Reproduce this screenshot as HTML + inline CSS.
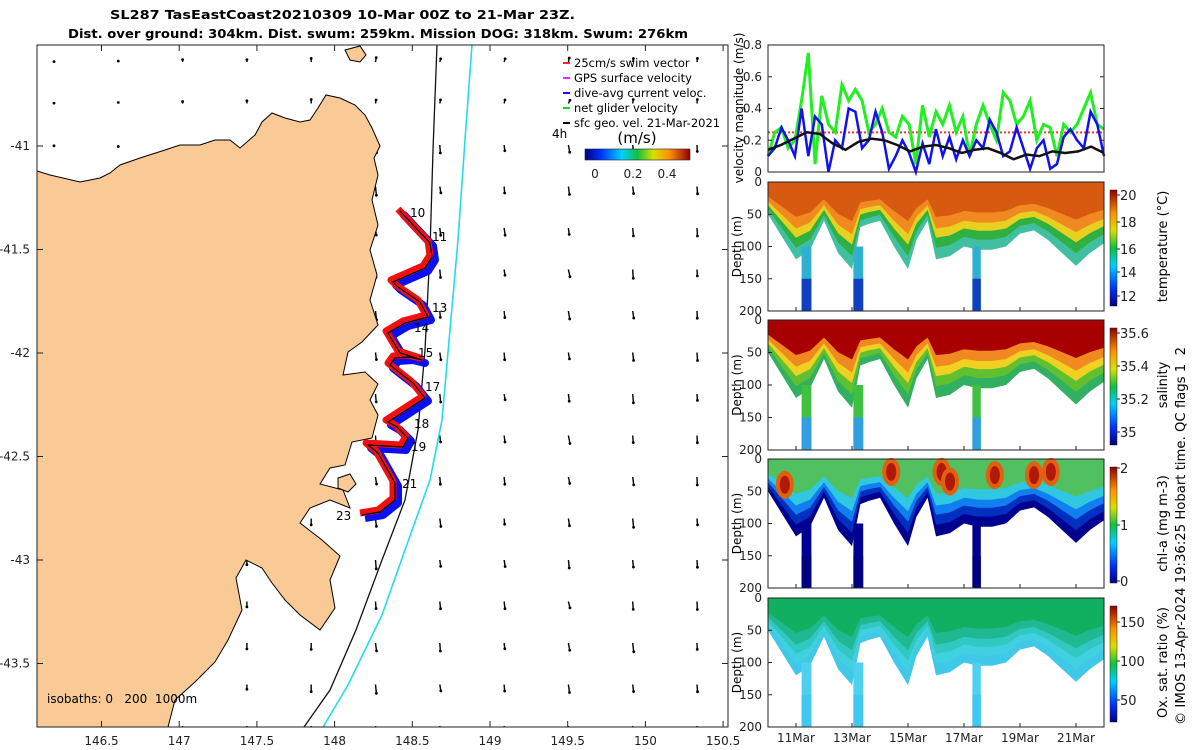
<!DOCTYPE html>
<html><head><meta charset="utf-8"><style>
body{margin:0;background:#fff;}
svg{display:block;font-family:"DejaVu Sans","Liberation Sans",sans-serif;}
text{white-space:pre;}
</style></head><body>
<svg id="fig" width="1200" height="750" viewBox="0 0 1200 750" xmlns="http://www.w3.org/2000/svg">
<defs>
<linearGradient id="jet" x1="0" y1="1" x2="0" y2="0">
<stop offset="0" stop-color="#00007f"/><stop offset="0.15" stop-color="#0030ff"/><stop offset="0.35" stop-color="#00d0ff"/><stop offset="0.5" stop-color="#10c040"/><stop offset="0.65" stop-color="#d8e000"/><stop offset="0.8" stop-color="#ff9000"/><stop offset="1" stop-color="#900000"/></linearGradient>
<linearGradient id="jeth" x1="0" y1="0" x2="1" y2="0">
<stop offset="0" stop-color="#00007f"/><stop offset="0.15" stop-color="#0030ff"/><stop offset="0.35" stop-color="#00d0ff"/><stop offset="0.5" stop-color="#10c040"/><stop offset="0.65" stop-color="#d8e000"/><stop offset="0.8" stop-color="#ff9000"/><stop offset="1" stop-color="#900000"/></linearGradient>
<clipPath id="mapclip"><rect x="37" y="45" width="691" height="682"/></clipPath>
</defs>
<text x="110" y="19" font-size="12" font-weight="bold" textLength="465" lengthAdjust="spacingAndGlyphs">SL287 TasEastCoast20210309 10-Mar 00Z to 21-Mar 23Z.</text>
<text x="68" y="38" font-size="12" font-weight="bold" textLength="620" lengthAdjust="spacingAndGlyphs">Dist. over ground: 304km. Dist. swum: 259km. Mission DOG: 318km. Swum: 276km</text>
<g id="map" clip-path="url(#mapclip)"></g>
<rect x="37" y="45" width="691" height="682" fill="none" stroke="#222" stroke-width="1"/>
<g id="mapaxes"></g>
<g id="legend"></g>
<g id="vel"></g>
<g id="sections"></g>
<text transform="translate(1185,725) rotate(-90)" font-size="13" textLength="378" lengthAdjust="spacingAndGlyphs">© IMOS 13-Apr-2024 19:36:25 Hobart time. QC flags 1  2</text>
</svg>
<script>
const NS="http://www.w3.org/2000/svg";
function mk(tag,attrs,parent){const e=document.createElementNS(NS,tag);for(const k in attrs)e.setAttribute(k,attrs[k]);parent.appendChild(e);return e;}
// ---------- Map ----------
const lonTicks=[146.5,147,147.5,148,148.5,149,149.5,150,150.5];
const latTicks=[-41,-41.5,-42,-42.5,-43,-43.5];
const lonX=l=>101.5+(l-146.5)*155.4;
const latY=l=>146+(-41-l)*207;
const map=document.getElementById('map');
const quiverU=[0,0,0,0,0,0.02,0.02,0.02,0.03,0.02,0.01];
const quiverV=[-0.02,-0.05,-0.12,-0.15,-0.2,-0.22,-0.2,-0.18,-0.2,-0.22,-0.2];
for(let r=0;r<17;r++){for(let c=0;c<11;c++){
 const x=54+c*64.3, y=62+r*41.5;
 const u=quiverU[c]*(1+0.3*((r*3+c)%4-1.5)/1.5), v=quiverV[c]*(r<2?-0.5:1)*(0.8+0.1*((r+c)%3));
 const dx=u*40, dy=-v*40;
 const g=mk('g',{},map);
 
 
 mk('line',{x1:x,y1:y,x2:x+dx,y2:y+dy,stroke:'#000','stroke-width':1.4},g);
 mk('circle',{cx:x+dx,cy:y+dy,r:1.4,fill:'#000'},g);
}}
const iso200=[[437,45],[433,150],[430,250],[425,350],[418,430],[405,500],[382,560],[356,630],[330,690],[304,727]];
const iso1000=[[472,45],[465,140],[458,240],[450,330],[442,420],[430,480],[405,550],[382,615],[348,685],[323,727]];
const pl=a=>a.map(p=>p.join(',')).join(' ');
let e=mk('polyline',{points:pl(iso200),fill:'none',stroke:'#111','stroke-width':1.3},map);

e=mk('polyline',{points:pl(iso1000),fill:'none',stroke:'#22dde8','stroke-width':1.6},map);

const land=[[37,171],[50,175],[80,182],[100,178],[110,173],[120,165],[140,158],[165,150],[180,145],[200,145],[215,140],[230,140],[240,148],[255,135],[262,122],[272,113],[285,118],[300,122],[310,120],[318,108],[326,95],[340,98],[355,105],[365,115],[372,128],[380,146],[374,158],[378,175],[372,200],[378,225],[370,250],[377,275],[370,300],[378,325],[362,342],[348,352],[343,375],[365,372],[378,384],[370,400],[378,415],[372,438],[352,442],[345,465],[330,468],[320,484],[343,490],[350,508],[330,500],[310,508],[300,523],[322,540],[340,556],[330,580],[335,608],[320,630],[300,615],[285,600],[272,583],[262,568],[246,560],[236,578],[242,610],[228,640],[215,662],[195,682],[175,700],[168,727],[37,727]];
e=mk('polygon',{points:pl(land),fill:'#f9ca96',stroke:'#000','stroke-width':1},map);

e=mk('polygon',{points:'345,50 360,46 366,55 360,62 350,60',fill:'#f9ca96',stroke:'#000','stroke-width':1},map);

e=mk('polygon',{points:'338,478 350,474 356,484 348,492 338,488',fill:'#f9ca96',stroke:'#000','stroke-width':1},map);

const track=[[400,211],[430,243],[432,257],[425,268],[393,282],[398,287],[420,302],[428,317],[405,323],[388,333],[400,353],[422,360],[410,357],[395,358],[390,365],[413,383],[425,398],[388,422],[397,427],[408,438],[403,447],[368,445],[378,453],[395,483],[395,500],[380,512],[362,515]];
e=mk('polyline',{points:pl(track.map(p=>[p[0]+3,p[1]+3])),fill:'none',stroke:'#0a10f0','stroke-width':8,'stroke-linejoin':'round'},map);

e=mk('polyline',{points:pl(track.map(p=>[p[0]-2,p[1]-2])),fill:'none',stroke:'#f01010','stroke-width':7,'stroke-linejoin':'round'},map);

e=mk('polyline',{points:pl(track),fill:'none',stroke:'#000','stroke-width':1.2},map);

const dayLab=['10','11','13','14','15','17','18','19','21','23'];
const dayPos=[[410,217],[432,241],[432,312],[414,332],[418,357],[425,391],[414,428],[411,451],[402,488],[336,520]];
dayLab.forEach((t,i)=>{const x=mk('text',{x:dayPos[i][0],y:dayPos[i][1],'font-size':12},map);x.textContent=t;
 });
e=mk('text',{x:47,y:703,'font-size':12},map);e.textContent='isobaths: 0   200  1000m';

const ax=document.getElementById('mapaxes');
lonTicks.forEach(l=>{const x=lonX(l);mk('line',{x1:x,y1:727,x2:x,y2:721,stroke:'#222'},ax);mk('line',{x1:x,y1:45,x2:x,y2:51,stroke:'#222'},ax);
 const t=mk('text',{x:x,y:745,'text-anchor':'middle','font-size':12,fill:'#222'},ax);t.textContent=String(l);
 });
latTicks.forEach(l=>{const y=latY(l);mk('line',{x1:37,y1:y,x2:43,y2:y,stroke:'#222'},ax);mk('line',{x1:728,y1:y,x2:722,y2:y,stroke:'#222'},ax);
 const t=mk('text',{x:30,y:y+4,'text-anchor':'end','font-size':12,fill:'#222'},ax);t.textContent=String(l);
 });
const lg=document.getElementById('legend');
const legT=['25cm/s swim vector','GPS surface velocity','dive-avg current veloc.','net glider velocity','sfc geo. vel. 21-Mar-2021'];
const legC=['#ff2020','#ff20ff','#1010ff','#10e010','#000'];
legT.forEach((t,i)=>{const y=63+i*15;mk('line',{x1:563,y1:y,x2:570,y2:y,stroke:legC[i],'stroke-width':2},lg);
 const x=mk('text',{x:574,y:y+4,'font-size':11.5},lg);x.textContent=t;});
e=mk('text',{x:552,y:138,'font-size':12},lg);e.textContent='4h';
e=mk('text',{x:637,y:143,'font-size':15,'text-anchor':'middle'},lg);e.textContent='(m/s)';
e=mk('rect',{x:585,y:149,width:105,height:11,fill:'url(#jeth)',stroke:'#222','stroke-width':0.6},lg);
[['0',595],['0.2',633],['0.4',667]].forEach(p=>{const x=mk('text',{x:p[1],y:178,'font-size':12,'text-anchor':'middle',fill:'#222'},lg);x.textContent=p[0];
 });
// ---------- Velocity panel ----------
const velGreen=[0.1,0.25,0.28,0.15,0.2,0.45,0.75,0.05,0.48,0.3,0.25,0.55,0.45,0.52,0.45,0.25,0.3,0.4,0.25,0.22,0.35,0.3,0.05,0.42,0.22,0.38,0.3,0.42,0.25,0.35,0.1,0.3,0.42,0.3,0.2,0.5,0.45,0.3,0.35,0.45,0.2,0.3,0.28,0.1,0.3,0.25,0.3,0.4,0.5,0.3,0.27];
const velBlue=[0.1,0.15,0.28,0.2,0.1,0.4,0.1,0.35,0.3,0.0,0.2,0.15,0.4,0.38,0.15,0.2,0.38,0.25,0.02,0.1,0.2,0.12,0.0,0.18,0.05,0.27,0.1,0.22,0.08,0.2,0.1,0.2,0.15,0.33,0.25,0.1,0.13,0.28,0.15,0.02,0.15,0.2,0.02,0.05,0.22,0.27,0.2,0.15,0.38,0.3,0.1];
const velBlack=[0.14,0.17,0.21,0.25,0.24,0.18,0.14,0.19,0.21,0.2,0.17,0.13,0.16,0.17,0.15,0.12,0.14,0.15,0.12,0.08,0.11,0.1,0.13,0.12,0.13,0.16,0.12];
const swimRef=0.25;
const velTicks=[0,0.2,0.4,0.6,0.8];
const V={x0:768,x1:1104,y0:172,y1:45};
const tX=d=>V.x0+d*(V.x1-V.x0)/12;
const vY=v=>V.y0-v/0.8*(V.y0-V.y1);
const vel=document.getElementById('vel');
const series=(arr)=>arr.map((v,i)=>[tX(i*12/(arr.length-1)),vY(v)]);
e=mk('line',{x1:V.x0,y1:vY(swimRef),x2:V.x1,y2:vY(swimRef),stroke:'#ff3030','stroke-width':2,'stroke-dasharray':'2,2'},vel);
e=mk('polyline',{points:pl(series(velGreen)),fill:'none',stroke:'#20f020','stroke-width':3},vel);
e=mk('polyline',{points:pl(series(velBlue)),fill:'none',stroke:'#1010f0','stroke-width':2.5},vel);
e=mk('polyline',{points:pl(series(velBlack)),fill:'none',stroke:'#111','stroke-width':2.5},vel);
mk('rect',{x:V.x0,y:V.y1,width:V.x1-V.x0,height:V.y0-V.y1,fill:'none',stroke:'#222'},vel);
velTicks.forEach(v=>{const y=vY(v);mk('line',{x1:V.x0,y1:y,x2:V.x0+4,y2:y,stroke:'#222'},vel);mk('line',{x1:V.x1,y1:y,x2:V.x1-4,y2:y,stroke:'#222'},vel);
 const t=mk('text',{x:762,y:y+4,'text-anchor':'end','font-size':12,fill:'#222'},vel);t.textContent=String(v);
 });
e=mk('text',{transform:'translate(743,108) rotate(-90)','text-anchor':'middle','font-size':12},vel);e.textContent='velocity magnitude (m/s)';

// ---------- Sections ----------
const profDays=[0,0.5,1,1.5,2,2.5,3,3.3,3.6,4,4.5,5,5.3,5.7,6,6.5,7,7.5,8,8.5,9,9.5,10,10.5,11,11.5,12];
const profDepth=[50,85,120,105,60,110,135,70,65,60,100,135,90,60,120,115,100,105,105,100,80,75,90,110,130,110,95];
const deepStart=[1.2,3.05,7.3];
const deepEnd=[1.55,3.4,7.6];
const dateLabels=['11Mar','13Mar','15Mar','17Mar','19Mar','21Mar'];
const dateDays=[1,3,5,7,9,11];
const depthTicks=[0,50,100,150,200];
const panels=[
 {top:182,bot:311,layers:['#40c0a0','#30b040','#e8d020','#f08a20','#d85a10'],deep:['#1040c0','#30b0d0'],cb:[['20',195],['18',222],['16',249],['14',272],['12',296]],title:'temperature (°C)',name:'temperature'},
 {top:320,bot:450,layers:['#30b060','#60c030','#f0d020','#f08a20','#a80000'],deep:['#30a0e0','#40c040'],cb:[['35.6',333],['35.4',366],['35.2',399],['35',432]],title:'salinity',name:'salinity'},
 {top:459,bot:588,layers:['#000090','#0030c0','#1080f0','#30c8e0','#50c060'],deep:['#000080','#000090'],cb:[['2',468],['1',525],['0',581]],title:'chl-a (mg m-3)',name:'chl-a'},
 {top:598,bot:727,layers:['#40c8e8','#40d0e0','#30c8c0','#20b890','#10b060'],deep:['#40c8f0','#50d0f0'],cb:[['150',622],['100',661],['50',700]],title:'Ox. sat. ratio (%)',name:'oxygen'}];
const sec=document.getElementById('sections');
const fracs=[1,0.85,0.72,0.6,0.45];
panels.forEach((P,pi)=>{
 const dY=d=>P.top+d/200*(P.bot-P.top);
 const g=mk('g',{},sec);
 
 
 P.layers.forEach((col,li)=>{
  const f=fracs[li];
  const pts=[[tX(0),dY(0)]].concat(profDays.map((d,i)=>[tX(d),dY(profDepth[i]*f)])).concat([[tX(12),dY(0)]]);
  const p=mk('polygon',{points:pl(pts),fill:col},g);
  
  
 });
 deepStart.forEach((s,i)=>{
  const x0=tX(s),x1=tX(deepEnd[i]);
  const r=mk('rect',{x:x0,y:dY(100),width:x1-x0,height:dY(200)-dY(100),fill:P.deep[1]},g);
  
  mk('rect',{x:x0,y:dY(150),width:x1-x0,height:dY(200)-dY(150),fill:P.deep[0]},g);
 });
 if(pi===2){const blobs=[[4.4,20],[6.2,20],[6.5,35],[8.1,25],[9.5,25],[10.1,20],[0.6,40]];
  blobs.forEach(b=>{const c=mk('ellipse',{cx:tX(b[0]),cy:dY(b[1]),rx:9,ry:14,fill:'#e06010'},g);
   mk('ellipse',{cx:tX(b[0]),cy:dY(b[1]),rx:5,ry:9,fill:'#b01808'},g);});}
 mk('rect',{x:768,y:P.top,width:336,height:P.bot-P.top,fill:'none',stroke:'#222'},g);
 depthTicks.forEach(d=>{const y=dY(d);mk('line',{x1:768,y1:y,x2:772,y2:y,stroke:'#222'},g);
  const t=mk('text',{x:762,y:y+4,'text-anchor':'end','font-size':12,fill:'#222'},g);t.textContent=String(d);
  });
 dateDays.forEach(d=>{mk('line',{x1:tX(d),y1:P.bot,x2:tX(d),y2:P.bot-4,stroke:'#222'},g);});
 let t=mk('text',{transform:`translate(741,${(P.top+P.bot)/2}) rotate(-90)`,'text-anchor':'middle','font-size':12},g);t.textContent='Depth (m)';
 
 const cb=mk('rect',{x:1110,y:P.top+8,width:7,height:P.bot-P.top-13,fill:'url(#jet)',stroke:'#222','stroke-width':0.5},g);
 
 P.cb.forEach(c=>{mk('line',{x1:1117,y1:c[1],x2:1120,y2:c[1],stroke:'#222'},g);
  const x=mk('text',{x:1120,y:c[1]+5,'font-size':13,fill:'#222'},g);x.textContent=c[0];});
 t=mk('text',{transform:`translate(1167,${(P.top+P.bot)/2}) rotate(-90)`,'text-anchor':'middle','font-size':13},g);t.textContent=P.title;
 
});
dateLabels.forEach((l,i)=>{const t=mk('text',{x:tX(dateDays[i]),y:742,'text-anchor':'middle','font-size':12,fill:'#222'},sec);t.textContent=l;
 });
</script>
</body></html>
